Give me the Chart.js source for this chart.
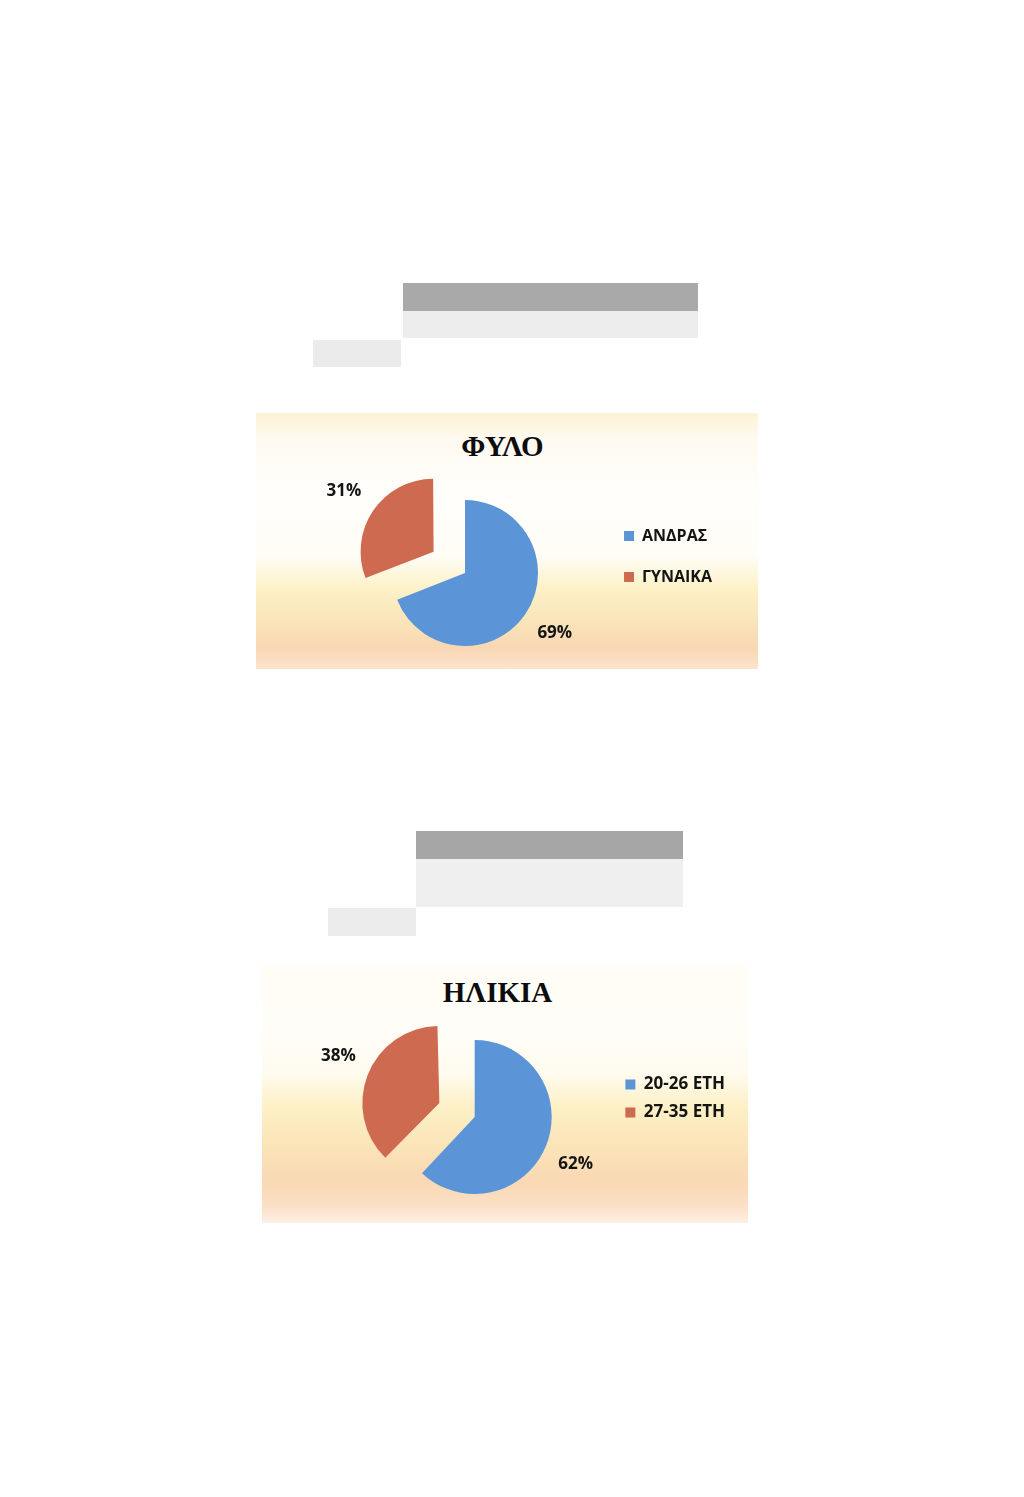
<!DOCTYPE html>
<html lang="el">
<head>
<meta charset="utf-8">
<title>ΦΥΛΟ / ΗΛΙΚΙΑ</title>
<script src="https://cdn.jsdelivr.net/npm/chart.js@4.4.1/dist/chart.umd.min.js"></script>
<style>
  html, body { margin: 0; padding: 0; background: #fff; }
  body { width: 1024px; height: 1497px; position: relative; overflow: hidden; }
  .blk { position: absolute; }
  .box { position: absolute; }
  .box canvas { position: absolute; left: 0; top: 0; }
  .ttl {
    position: absolute; left: 0; height: 36px; line-height: 36px; text-align: center;
    font: bold 29px "Liberation Serif", "DejaVu Serif", serif; color: #0d0d0d;
  }
  #box-sex {
    left: 256px; top: 413px; width: 502px; height: 256px;
    background: linear-gradient(to bottom, #fcf2d4 0%, #fffaf0 10%, #fffefb 30%, #fffdf6 56%, #fdf2c9 68%, #fae3b8 82%, #f8d7b3 92%, #fbe4cf 100%);
  }
  #box-age {
    left: 262px; top: 965px; width: 486px; height: 258px;
    background: linear-gradient(to bottom, #fffdf6 0%, #fffdf7 25%, #fffbef 42%, #fdf0c6 55%, #fbe4b8 70%, #f9d8b4 84%, #fbe1c8 94%, #fdf0e4 100%);
  }
</style>
</head>
<body>

<!-- scanned table header blocks above each chart -->
<div class="blk" style="left:403px;top:283px;width:295px;height:28px;background:#a9a9a9"></div>
<div class="blk" style="left:403px;top:311px;width:295px;height:27px;background:#ededed"></div>
<div class="blk" style="left:313px;top:340px;width:88px;height:27px;background:#ebebeb"></div>

<div class="blk" style="left:416px;top:831px;width:267px;height:28px;background:#a6a6a6"></div>
<div class="blk" style="left:416px;top:859px;width:267px;height:48px;background:#efefef"></div>
<div class="blk" style="left:328px;top:908px;width:88px;height:28px;background:#ececec"></div>
<div class="blk" style="left:305px;top:965px;width:45px;height:1px;background:#666"></div>

<div class="box" id="box-sex">
  <div class="ttl" style="top:17px;width:493px">ΦΥΛΟ</div>
  <canvas id="c-sex" width="502" height="270"></canvas>
</div>
<div class="box" id="box-age">
  <div class="ttl" style="top:11px;width:471px">ΗΛΙΚΙΑ</div>
  <canvas id="c-age" width="486" height="258"></canvas>
</div>

<script>
// ---- data ----
const SEX_LABELS = ['ΑΝΔΡΑΣ', 'ΓΥΝΑΙΚΑ'];
const SEX_VALUES = [69, 31];

const AGE_LABELS = ['20-26 ΕΤΗ', '27-35 ΕΤΗ'];
const AGE_VALUES = [62, 38];

const BLUE = '#5c94d8';
const RED = '#cd6a50';

// exploded slice keeps the same radius as the others (v4 grows it otherwise)
const evenRadius = {
  id: 'evenRadius',
  afterDatasetUpdate(chart, args) {
    args.meta.data.forEach(arc => {
      const shift = (arc.options.offset || 0) / 4;
      const fix = 1 - Math.sin(Math.min(Math.PI, arc.circumference || 0));
      arc.outerRadius -= shift * fix;
    });
  }
};

// percentage labels just outside each slice ("outside end")
const pctLabels = {
  id: 'pctLabels',
  afterDatasetsDraw(chart, args, opts) {
    const ctx = chart.ctx;
    const meta = chart.getDatasetMeta(0);
    const data = chart.data.datasets[0].data;
    const total = data.reduce((a, b) => a + b, 0);
    const r = meta.controller.outerRadius;
    ctx.save();
    ctx.font = opts.font;
    ctx.fillStyle = '#141414';
    ctx.textAlign = 'center';
    ctx.textBaseline = 'middle';
    meta.data.forEach((arc, i) => {
      const p = arc.getProps(['x', 'y', 'startAngle', 'endAngle'], true);
      const mid = (p.startAngle + p.endAngle) / 2;
      const c = Math.cos(mid), s = Math.sin(mid);
      const sx = Math.sign(c), sy = Math.sign(s);
      const d = (arc.options.offset || 0) / 4 + r;
      const txt = Math.round(data[i] / total * 100) + '%';
      const w = ctx.measureText(txt).width;
      const x = p.x + c * d + sx * (opts.gap + w / 2);
      const y = p.y + s * d + sy * (opts.gap + opts.h / 2);
      ctx.fillText(txt, x, y);
    });
    ctx.restore();
  }
};

function pie(id, labels, values, o) {
  new Chart(document.getElementById(id), {
    type: 'pie',
    data: {
      labels: labels,
      datasets: [{
        data: values,
        backgroundColor: [BLUE, RED],
        borderWidth: 0,
        offset: [0, o.offset],
        radius: o.radius,
      }]
    },
    options: {
      responsive: false,
      animation: false,
      layout: { padding: o.pad },
      plugins: {
        legend: {
          position: 'right',
          align: 'start',
          title: { display: true, text: ' ', font: { size: 10 }, padding: { top: o.legendTop, bottom: 0 } },
          labels: {
            boxWidth: 10,
            boxHeight: 10,
            padding: o.legendGap,
            color: '#141414',
            font: { family: '"Open Sans", "Noto Sans", sans-serif', size: o.legendSize, weight: 'bold' },
          }
        },
        tooltip: { enabled: false },
        pctLabels: { font: 'bold 17px "Open Sans", "Noto Sans", sans-serif', gap: 12, h: 14 },
      }
    },
    plugins: [evenRadius, pctLabels]
  });
}

pie('c-sex', SEX_LABELS, SEX_VALUES, {
  radius: 73, offset: 152,
  pad: { left: 75, right: 36, top: 51, bottom: 1 },
  legendTop: 27, legendGap: 25, legendSize: 16,
});

pie('c-age', AGE_LABELS, AGE_VALUES, {
  radius: 77, offset: 152,
  pad: { left: 73, right: 13, top: 46, bottom: 0 },
  legendTop: 42, legendGap: 11, legendSize: 17,
});
</script>
</body>
</html>
